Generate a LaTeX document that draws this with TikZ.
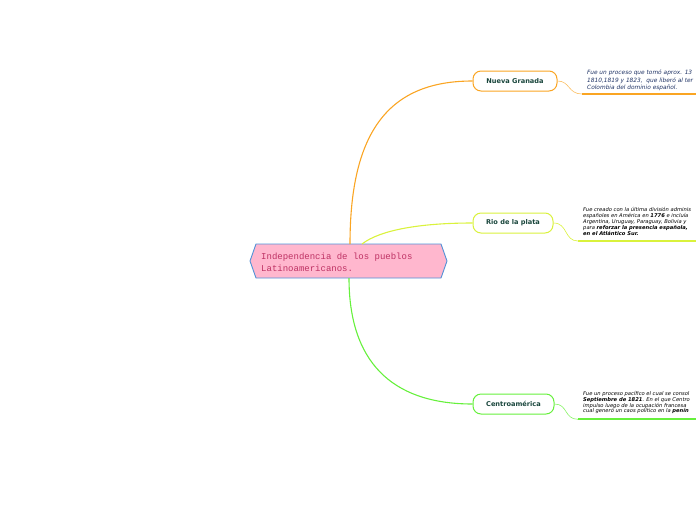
\documentclass[tikz,border=0pt]{standalone}
\usepackage{fontspec}
\newfontfamily\dvs{DejaVu Sans}
\newfontfamily\mono{Liberation Mono}
\definecolor{cOrange}{RGB}{250,165,35}
\definecolor{cYellow}{RGB}{218,242,60}
\definecolor{cGreen}{RGB}{102,240,60}
\definecolor{hexFill}{RGB}{255,183,206}
\definecolor{hexLine}{RGB}{80,145,215}
\definecolor{rootText}{RGB}{190,50,100}
\definecolor{lblText}{RGB}{25,70,60}
\definecolor{ngText}{RGB}{30,50,100}
\tikzset{
  topic/.style={draw, line width=1pt, fill=white, rounded corners=8pt, minimum height=20pt, inner sep=0pt, text=lblText, font=\dvs\bfseries\fontsize{6.6}{8}\selectfont},
  note/.style={anchor=north west, align=left, inner sep=0pt},
  branch/.style={line width=1.1pt},
  twig/.style={line width=0.6pt},
  uline/.style={line width=2pt}
}
\begin{document}
\begin{tikzpicture}[x=1pt,y=-1pt]
\useasboundingbox (0,0) rectangle (696,520);
% central hexagon
\filldraw[fill=hexFill, draw=hexLine, line width=0.9pt] (250,261) -- (256,244) -- (441,244) -- (447,261) -- (441,278) -- (256,278) -- cycle;
\node[note, text=rootText, font=\mono\fontsize{9}{12.7}\selectfont] (root) at (261,252.4) {Independencia de los pueblos\\Latinoamericanos.};
\coordinate (rTopA) at (350,244);
\coordinate (rTopB) at (362,244);
\coordinate (rBot) at (349,278);
% topics
\node[topic, draw=cOrange, minimum width=84pt] (ng) at (515,81) {Nueva Granada};
\node[topic, draw=cYellow, minimum width=80pt] (rp) at (513,223) {Rio de la plata};
\node[topic, draw=cGreen, minimum width=81pt] (ca) at (513.5,404) {Centroamérica};
% branches
\draw[branch, cOrange] (rTopA) .. controls (350,130) and (390,81) .. (ng.west);
\draw[branch, cYellow] (rTopB) .. controls (380,230) and (420,223) .. (rp.west);
\draw[branch, cGreen] (rBot) .. controls (349,360) and (390,404) .. (ca.west);
% notes
\node[note, text=ngText, font=\dvs\itshape\fontsize{5.85}{7.6}\selectfont] (ngn) at (587,69.8) {Fue un proceso que tomó aprox. 13\\1810,1819 y 1823,~ que liberó al ter\\Colombia del dominio español.};
\node[note, font=\dvs\itshape\fontsize{5.2}{5.85}\selectfont] (rpn) at (583,207.3) {Fue creado con la última división adminis\\españoles en América en \textbf{1776} e incluía\\Argentina, Uruguay, Paraguay, Bolivia y\\para \textbf{reforzar la presencia española,}\\\textbf{en el Atlántico Sur.}};
\node[note, font=\dvs\itshape\fontsize{5.2}{5.7}\selectfont] (can) at (583,391.3) {Fue un proceso pacífico el cual se consol\\\textbf{Septiembre de 1821}. En el que Centro\\impulso luego de la ocupación francesa\\cual generó un caos político en la \textbf{penín}};
% twigs and underlines
\coordinate (ngU) at (582,94);
\coordinate (rpU) at (578,241);
\coordinate (caU) at (578,419.3);
\coordinate (ngE) at (696,94);
\coordinate (rpE) at (696,241);
\coordinate (caE) at (696,419.3);
\draw[twig, cOrange!70] (ng.east) .. controls (570,81) and (568,94) .. (ngU);
\draw[twig, cYellow] (rp.east) .. controls (568,223) and (564,241) .. (rpU);
\draw[twig, cGreen!80] (ca.east) .. controls (568,404) and (564,419.3) .. (caU);
\draw[uline, cOrange] (ngU) -- (ngE);
\draw[uline, cYellow] (rpU) -- (rpE);
\draw[uline, cGreen] (caU) -- (caE);
\end{tikzpicture}
\end{document}
